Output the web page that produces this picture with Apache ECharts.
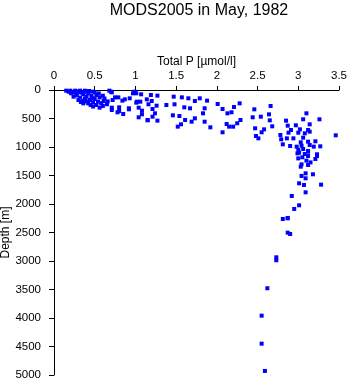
<!DOCTYPE html>
<html>
<head>
<meta charset="utf-8">
<script src="https://cdn.jsdelivr.net/npm/echarts@6/dist/echarts.min.js"></script>
<style>
  html, body { margin: 0; padding: 0; background: #fff; }
  #chart { width: 350px; height: 384px; }
</style>
</head>
<body>
<div id="chart"></div>
<script>
// Total phosphorus profile samples (µmol/l) and their sampling depths (m)
const totalP = [
  0.15, 0.20, 0.26, 0.32, 0.38, 0.43, 0.47, 0.21, 0.28, 0.36, 0.24, 0.32, 0.40, 0.46, 0.52,
  0.30, 0.36, 0.44, 0.50, 0.56, 0.36, 0.42, 0.48, 0.54, 0.45, 0.52, 0.56, 0.61, 0.68, 0.70,
  0.72, 0.75, 0.79, 0.84, 0.87, 0.93, 0.99, 1.02, 0.71, 0.71, 0.80, 0.92, 0.78, 0.85, 1.04,
  1.04, 0.40, 0.24, 0.32, 0.18, 0.28, 0.35, 0.42, 0.50, 0.55, 0.60, 0.38, 0.47, 0.27, 0.62,
  0.58, 0.66, 0.40, 0.33, 0.60, 0.65, 0.48, 0.71, 0.80, 0.92, 1.15, 0.97,
  1.01, 1.07, 1.19, 1.27, 1.14, 1.20, 1.06, 1.01, 1.16, 1.26, 1.21, 1.08, 1.24, 1.08, 1.21,
  1.15, 1.27, 1.38, 1.47, 1.57, 1.48, 1.65, 1.73, 1.79, 1.88, 1.60, 1.67, 1.85, 2.01, 2.07,
  1.46, 1.54, 1.61, 1.73, 1.69, 1.83, 1.85, 2.13, 2.18, 2.21, 2.28, 2.29, 2.25, 2.12, 2.15,
  2.20, 1.56, 1.52, 1.92, 2.07,
  2.66, 2.46, 2.64, 2.44, 2.54, 2.65, 2.68, 2.47, 2.58, 2.55, 2.48, 2.51, 3.10, 3.06, 3.26,
  3.14, 2.85, 2.87, 2.97, 2.91, 2.88, 3.02, 3.12, 3.00, 3.08, 3.14, 2.78, 3.46, 2.86, 2.94,
  3.06, 2.79, 3.03, 3.12, 3.21, 2.81, 2.90, 2.98, 3.04, 3.14, 3.19, 3.27, 3.00, 3.06, 3.12,
  2.99, 3.08, 3.23,
  3.01, 3.12, 3.12, 3.23, 3.21, 3.04, 3.12, 3.03, 3.09, 3.18, 3.04, 3.09, 3.01, 3.07, 3.28,
  3.09, 2.92, 3.01, 2.95, 2.87, 2.81, 3.05, 3.10, 3.00, 3.15,
  2.87, 2.87, 2.90, 2.73, 2.73, 2.62, 2.55, 2.55, 2.59
];
const depth = [
  12, 12, 12, 12, 12, 18, 29, 58, 76, 76, 117, 134, 117, 105, 88,
  175, 187, 175, 158, 129, 234, 234, 216, 205, 263, 263, 310, 193, 12, 29,
  175, 129, 129, 187, 164, 146, 29, 205, 310, 351, 304, 321, 391, 421, 310,
  479, 29, 41, 41, 30, 25, 50, 60, 40, 60, 100, 150, 140, 95, 150,
  230, 200, 200, 210, 280, 250, 290, 41, 368, 339, 526, 58,
  58, 76, 88, 99, 164, 193, 205, 222, 251, 275, 333, 363, 409, 427, 468,
  532, 538, 263, 117, 129, 251, 146, 193, 146, 187, 304, 321, 321, 246, 333,
  444, 456, 526, 497, 556, 409, 556, 409, 391, 298, 234, 526, 584, 596, 643,
  643, 602, 643, 655, 742,
  281, 339, 427, 479, 468, 532, 637, 672, 690, 742, 807, 848, 409, 514, 514,
  602, 538, 626, 619, 702, 749, 690, 702, 749, 760, 731, 789, 795, 848, 848,
  836, 865, 918, 906, 900, 953, 982, 994, 977, 965, 994, 988, 1052, 1035, 1070,
  1111, 1123, 1128,
  1099, 1082, 1158, 1158, 1210, 1304, 1316, 1345, 1462, 1479, 1508, 1549, 1637, 1666, 1661,
  1795, 1859, 2023, 2087, 2251, 2263, 1180, 1240, 1200, 1270,
  2245, 2503, 2526, 2935, 2987, 3478, 3959, 4450, 4929
];
const xTicks = { min: 0, max: 3.5, step: 0.5 };
const yTicks = { min: 0, max: 5000, step: 500 };

const points = totalP.map((p, i) => [p, depth[i]]);
const font = "'Liberation Sans', Arial, Helvetica, sans-serif";

const chart = echarts.init(document.getElementById('chart'), null, { renderer: 'canvas' });
chart.setOption({
  animation: false,
  backgroundColor: '#ffffff',
  title: {
    text: 'MODS2005 in May, 1982',
    left: 194,
    top: -2,
    textAlign: 'center',
    textStyle: { fontFamily: font, fontSize: 16, fontWeight: 'normal', color: '#000' }
  },
  grid: { left: 54, top: 90, width: 285, height: 285, containLabel: false, outerBoundsMode: 'none' },
  xAxis: {
    type: 'value',
    position: 'top',
    min: xTicks.min, max: xTicks.max, interval: xTicks.step,
    name: 'Total P [µmol/l]',
    nameLocation: 'middle',
    nameGap: 22,
    nameMoveOverlap: false,
    nameTextStyle: { fontFamily: font, fontSize: 12, color: '#000' },
    axisLine: { onZero: false, lineStyle: { color: '#000', width: 1 } },
    axisTick: { inside: false, length: 4, lineStyle: { color: '#000' } },
    axisLabel: { margin: 8, fontFamily: font, fontSize: 11.5, color: '#000',
      formatter: v => String(v) },
    splitLine: { show: false }
  },
  yAxis: {
    type: 'value',
    inverse: true,
    min: yTicks.min, max: yTicks.max, interval: yTicks.step,
    name: 'Depth [m]',
    nameLocation: 'middle',
    nameGap: 42,
    nameMoveOverlap: false,
    nameTextStyle: { fontFamily: font, fontSize: 12, color: '#000' },
    axisLine: { onZero: false, lineStyle: { color: '#000', width: 1 } },
    axisTick: { inside: false, length: 5, lineStyle: { color: '#000' } },
    axisLabel: { margin: 13, fontFamily: font, fontSize: 11.5, color: '#000',
      formatter: v => String(v) },
    splitLine: { show: false }
  },
  series: [{
    type: 'scatter',
    data: points,
    symbol: 'rect',
    symbolSize: 4,
    itemStyle: { color: '#0000ff', opacity: 1 }
  }]
});
</script>
</body>
</html>
